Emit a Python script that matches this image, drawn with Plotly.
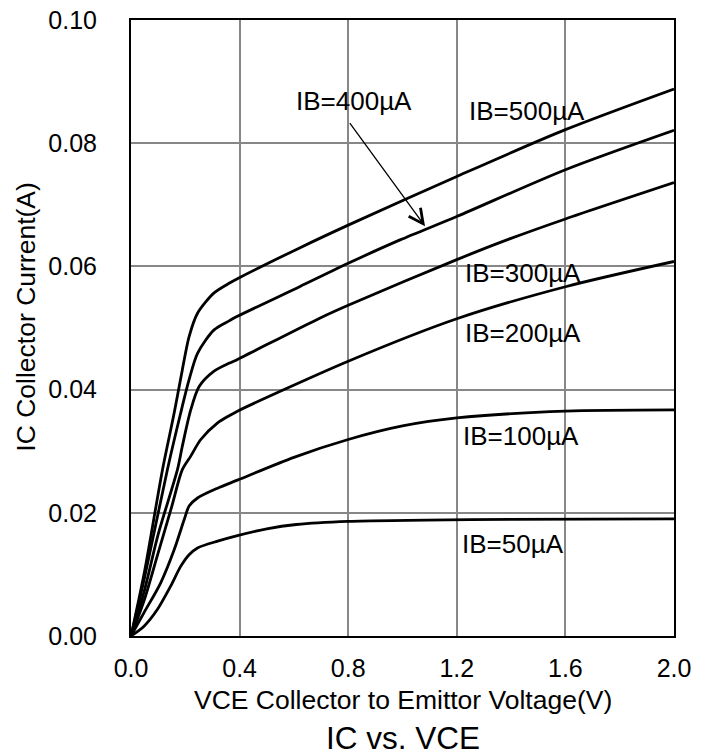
import plotly.graph_objects as go

# ---- data ----
vce_500 = [0, 0.05, 0.116, 0.159, 0.189, 0.214, 0.245, 0.306, 0.363, 0.392, 0.621, 0.8, 1.2, 1.6, 2.0]
ic_500 = [0, 0.0105, 0.027, 0.0362, 0.0432, 0.0486, 0.0524, 0.0557, 0.0573, 0.0580, 0.063, 0.0667, 0.0746, 0.0822, 0.0888]

vce_400 = [0, 0.05, 0.134, 0.183, 0.214, 0.245, 0.306, 0.363, 0.392, 0.621, 0.8, 0.991, 1.2, 1.6, 2.0]
ic_400 = [0, 0.0095, 0.027, 0.0362, 0.0416, 0.0459, 0.0497, 0.0512, 0.0519, 0.0567, 0.0605, 0.0643, 0.0681, 0.0757, 0.0821]

vce_300 = [0, 0.05, 0.1, 0.171, 0.189, 0.22, 0.251, 0.306, 0.363, 0.392, 0.695, 0.8, 1.2, 1.397, 1.6, 2.0]
ic_300 = [0, 0.0075, 0.0165, 0.027, 0.0308, 0.0367, 0.0405, 0.0430, 0.0443, 0.0449, 0.0516, 0.0537, 0.0611, 0.0645, 0.0677, 0.0736]

vce_200 = [0, 0.05, 0.1, 0.15, 0.189, 0.22, 0.257, 0.319, 0.363, 0.392, 0.8, 1.2, 1.6, 2.0]
ic_200 = [0, 0.006, 0.0135, 0.021, 0.027, 0.0292, 0.0319, 0.0346, 0.0358, 0.0365, 0.0446, 0.0515, 0.0567, 0.0608]

vce_100 = [0, 0.048, 0.109, 0.159, 0.196, 0.214, 0.245, 0.319, 0.392, 0.6, 0.8, 1.0, 1.2, 1.6, 2.0]
ic_100 = [0, 0.0038, 0.0086, 0.014, 0.0189, 0.0211, 0.0224, 0.024, 0.0253, 0.0290, 0.0319, 0.0341, 0.0354, 0.0365, 0.0367]

vce_50 = [0, 0.048, 0.097, 0.146, 0.183, 0.214, 0.245, 0.319, 0.392, 0.5, 0.609, 0.8, 1.249, 2.0]
ic_50 = [0, 0.0016, 0.0043, 0.0081, 0.0113, 0.0132, 0.0143, 0.0154, 0.0163, 0.0174, 0.0181, 0.0186, 0.0189, 0.019]

series = [
    ("IB=500µA", vce_500, ic_500),
    ("IB=400µA", vce_400, ic_400),
    ("IB=300µA", vce_300, ic_300),
    ("IB=200µA", vce_200, ic_200),
    ("IB=100µA", vce_100, ic_100),
    ("IB=50µA", vce_50, ic_50),
]

# label positions (data coords)
label_text = ["IB=400µA", "IB=500µA", "IB=300µA", "IB=200µA", "IB=100µA", "IB=50µA"]
label_x = [0.823, 1.459, 1.443, 1.443, 1.435, 1.407]
label_y = [0.0868, 0.0853, 0.0589, 0.0492, 0.0324, 0.0150]

arrow_tail = (0.802, 0.0835)
arrow_head = (1.083, 0.0665)

x_ticks = [0.0, 0.4, 0.8, 1.2, 1.6, 2.0]
y_ticks = [0.00, 0.02, 0.04, 0.06, 0.08, 0.10]

FONT = "Liberation Sans, Arial, sans-serif"

fig = go.Figure()
for name, xs, ys in series:
    fig.add_trace(go.Scatter(
        x=xs, y=ys, mode="lines", name=name,
        line=dict(color="black", width=2.8, shape="spline", smoothing=0.8),
        showlegend=False, hoverinfo="skip",
    ))

annotations = []
for t, x, y in zip(label_text, label_x, label_y):
    annotations.append(dict(x=x, y=y, xref="x", yref="y", text=t, showarrow=False,
                            font=dict(family=FONT, size=26, color="black"),
                            xanchor="center", yanchor="middle"))
annotations.append(dict(x=arrow_head[0], y=arrow_head[1], xref="x", yref="y",
                        ax=arrow_tail[0], ay=arrow_tail[1], axref="x", ayref="y",
                        text="", showarrow=True, arrowhead=5, arrowsize=2.2,
                        arrowwidth=1.3, arrowcolor="black"))
annotations.append(dict(x=0.5, y=-0.104, xref="paper", yref="paper",
                        text="VCE Collector to Emittor Voltage(V)", showarrow=False,
                        font=dict(family=FONT, size=26.5, color="black"),
                        xanchor="center", yanchor="middle"))
annotations.append(dict(x=0.5, y=-0.166, xref="paper", yref="paper",
                        text="IC vs. VCE", showarrow=False,
                        font=dict(family=FONT, size=31.5, color="black"),
                        xanchor="center", yanchor="middle"))
annotations.append(dict(x=-0.195, y=0.517, xref="paper", yref="paper",
                        text="IC Collector Current(A)", showarrow=False, textangle=-90,
                        font=dict(family=FONT, size=26.5, color="black"),
                        xanchor="center", yanchor="middle"))

fig.update_layout(
    width=708, height=755,
    margin=dict(l=131, r=34, t=20, b=119, autoexpand=False),
    paper_bgcolor="white", plot_bgcolor="white",
    font=dict(family=FONT, size=25, color="black"),
    annotations=annotations,
)
fig.update_xaxes(
    range=[0, 2.0], tickvals=x_ticks, ticktext=[f"{v:.1f}" for v in x_ticks],
    showgrid=True, gridcolor="#878787", gridwidth=1.6,
    showline=True, linecolor="black", linewidth=2, mirror=True,
    ticks="outside", ticklen=9, tickcolor="rgba(0,0,0,0)",
    tickfont=dict(family=FONT, size=25, color="black"), zeroline=False,
    automargin=False,
)
fig.update_yaxes(
    range=[0, 0.10], tickvals=y_ticks, ticktext=[f"{v:.2f}" for v in y_ticks],
    showgrid=True, gridcolor="#878787", gridwidth=1.6,
    showline=True, linecolor="black", linewidth=2, mirror=True,
    ticks="outside", ticklen=27, tickcolor="rgba(0,0,0,0)",
    tickfont=dict(family=FONT, size=25, color="black"), zeroline=False,
    automargin=False,
)

fig.write_html(
    "out.html",
    config={"displayModeBar": False},
    post_script="document.body.style.margin='0';document.body.style.padding='0';document.body.style.overflow='hidden';",
)
